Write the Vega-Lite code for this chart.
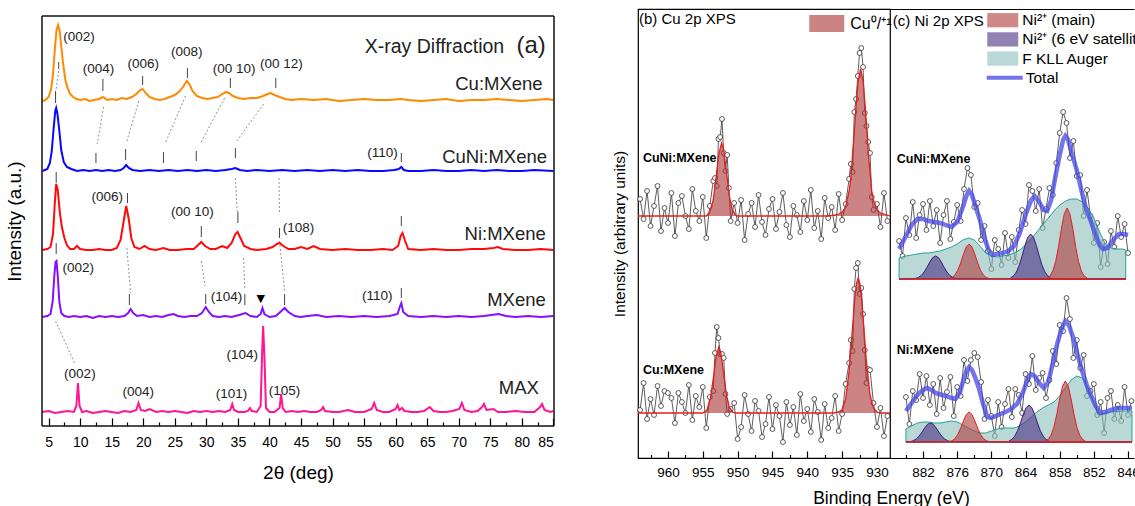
{
"$schema":"https://vega.github.io/schema/vega-lite/v6.json",
"background":"white",
"padding":{"left":5,"top":8,"right":0,"bottom":0},
"config":{
 "view":{"stroke":"black","strokeWidth":1.2},
 "axis":{"labelFont":"Liberation Sans","titleFont":"Liberation Sans","labelColor":"black","titleColor":"black","tickColor":"black","domainColor":"black","titleFontWeight":"normal","grid":false},
 "text":{"font":"Liberation Sans"},
 "legend":{"labelFont":"Liberation Sans","labelColor":"black"}
},
"datasets":{
"xframe":[
{"t":3.95,"t2":3.95,"a":0,"b":410},{"t":85.1,"t2":85.1,"a":0,"b":410},{"t":3.95,"t2":85.1,"a":410,"b":410},{"t":3.95,"t2":85.1,"a":0,"b":0}
],
"xrd":[
{"s":"Cu","t":4.0,"i":325},{"s":"Cu","t":4.5,"i":326},{"s":"Cu","t":5.0,"i":329},{"s":"Cu","t":5.4,"i":337},{"s":"Cu","t":5.7,"i":352},{"s":"Cu","t":6.0,"i":378},{"s":"Cu","t":6.25,"i":396},{"s":"Cu","t":6.5,"i":401},{"s":"Cu","t":6.75,"i":395},{"s":"Cu","t":7.0,"i":380},{"s":"Cu","t":7.3,"i":362},{"s":"Cu","t":7.65,"i":346},{"s":"Cu","t":8.0,"i":338},{"s":"Cu","t":8.4,"i":332},{"s":"Cu","t":8.9,"i":329},{"s":"Cu","t":9.4,"i":327},{"s":"Cu","t":10,"i":326},{"s":"Cu","t":10.8,"i":327},{"s":"Cu","t":11.5,"i":325},{"s":"Cu","t":12.2,"i":326},{"s":"Cu","t":13.0,"i":327},{"s":"Cu","t":13.6,"i":329},{"s":"Cu","t":14.3,"i":326},{"s":"Cu","t":15.0,"i":327},{"s":"Cu","t":15.8,"i":326},{"s":"Cu","t":16.6,"i":328},{"s":"Cu","t":17.4,"i":327},{"s":"Cu","t":18.2,"i":329},{"s":"Cu","t":18.9,"i":332},{"s":"Cu","t":19.5,"i":336},{"s":"Cu","t":19.9,"i":337},{"s":"Cu","t":20.4,"i":333},{"s":"Cu","t":21.0,"i":329},{"s":"Cu","t":21.8,"i":327},{"s":"Cu","t":22.6,"i":326},{"s":"Cu","t":23.4,"i":327},{"s":"Cu","t":24.2,"i":329},{"s":"Cu","t":25.0,"i":331},{"s":"Cu","t":25.8,"i":335},{"s":"Cu","t":26.4,"i":340},{"s":"Cu","t":26.9,"i":345},{"s":"Cu","t":27.3,"i":342},{"s":"Cu","t":27.8,"i":335},{"s":"Cu","t":28.5,"i":330},{"s":"Cu","t":29.3,"i":328},{"s":"Cu","t":30.2,"i":327},{"s":"Cu","t":31.0,"i":328},{"s":"Cu","t":31.8,"i":329},{"s":"Cu","t":32.5,"i":332},{"s":"Cu","t":33.1,"i":334},{"s":"Cu","t":33.6,"i":333},{"s":"Cu","t":34.2,"i":330},{"s":"Cu","t":35.0,"i":328},{"s":"Cu","t":36.0,"i":327},{"s":"Cu","t":37.0,"i":328},{"s":"Cu","t":38.0,"i":328},{"s":"Cu","t":39.0,"i":330},{"s":"Cu","t":39.7,"i":332},{"s":"Cu","t":40.2,"i":333},{"s":"Cu","t":40.8,"i":331},{"s":"Cu","t":41.6,"i":329},{"s":"Cu","t":42.5,"i":327},{"s":"Cu","t":43.5,"i":326},{"s":"Cu","t":45,"i":327},{"s":"Cu","t":47,"i":326},{"s":"Cu","t":49,"i":327},{"s":"Cu","t":51,"i":325},{"s":"Cu","t":53,"i":326},{"s":"Cu","t":55,"i":327},{"s":"Cu","t":57,"i":326},{"s":"Cu","t":59,"i":326},{"s":"Cu","t":60.8,"i":327},{"s":"Cu","t":62,"i":326},{"s":"Cu","t":64,"i":325},{"s":"Cu","t":66,"i":326},{"s":"Cu","t":68,"i":327},{"s":"Cu","t":70,"i":325},{"s":"Cu","t":72,"i":326},{"s":"Cu","t":74,"i":326},{"s":"Cu","t":76,"i":327},{"s":"Cu","t":78,"i":326},{"s":"Cu","t":80,"i":325},{"s":"Cu","t":82,"i":326},{"s":"Cu","t":84,"i":327},{"s":"Cu","t":85,"i":326},
{"s":"CuNi","t":4.0,"i":255},{"s":"CuNi","t":4.8,"i":257},{"s":"CuNi","t":5.2,"i":263},{"s":"CuNi","t":5.5,"i":275},{"s":"CuNi","t":5.8,"i":298},{"s":"CuNi","t":6.05,"i":315},{"s":"CuNi","t":6.2,"i":318},{"s":"CuNi","t":6.4,"i":312},{"s":"CuNi","t":6.7,"i":295},{"s":"CuNi","t":7.0,"i":276},{"s":"CuNi","t":7.4,"i":264},{"s":"CuNi","t":7.9,"i":259},{"s":"CuNi","t":8.6,"i":257},{"s":"CuNi","t":9.5,"i":255},{"s":"CuNi","t":10.5,"i":256},{"s":"CuNi","t":11.5,"i":255},{"s":"CuNi","t":12.5,"i":256},{"s":"CuNi","t":13.5,"i":255},{"s":"CuNi","t":14.5,"i":256},{"s":"CuNi","t":15.5,"i":255},{"s":"CuNi","t":16.4,"i":256},{"s":"CuNi","t":16.9,"i":258},{"s":"CuNi","t":17.3,"i":261},{"s":"CuNi","t":17.7,"i":258},{"s":"CuNi","t":18.3,"i":256},{"s":"CuNi","t":19.5,"i":255},{"s":"CuNi","t":21,"i":256},{"s":"CuNi","t":22.5,"i":255},{"s":"CuNi","t":24,"i":256},{"s":"CuNi","t":25.5,"i":255},{"s":"CuNi","t":27,"i":256},{"s":"CuNi","t":28.5,"i":255},{"s":"CuNi","t":30,"i":256},{"s":"CuNi","t":31.5,"i":255},{"s":"CuNi","t":33,"i":256},{"s":"CuNi","t":34.0,"i":257},{"s":"CuNi","t":34.6,"i":258},{"s":"CuNi","t":35.3,"i":256},{"s":"CuNi","t":36.5,"i":255},{"s":"CuNi","t":38,"i":256},{"s":"CuNi","t":40,"i":255},{"s":"CuNi","t":42,"i":256},{"s":"CuNi","t":44,"i":255},{"s":"CuNi","t":46,"i":256},{"s":"CuNi","t":48,"i":255},{"s":"CuNi","t":50,"i":256},{"s":"CuNi","t":52,"i":255},{"s":"CuNi","t":54,"i":256},{"s":"CuNi","t":56,"i":255},{"s":"CuNi","t":58,"i":255},{"s":"CuNi","t":59.8,"i":256},{"s":"CuNi","t":60.5,"i":257},{"s":"CuNi","t":60.9,"i":259},{"s":"CuNi","t":61.3,"i":256},{"s":"CuNi","t":62,"i":255},{"s":"CuNi","t":64,"i":255},{"s":"CuNi","t":66,"i":256},{"s":"CuNi","t":68,"i":255},{"s":"CuNi","t":70,"i":255},{"s":"CuNi","t":72,"i":256},{"s":"CuNi","t":74,"i":255},{"s":"CuNi","t":76,"i":256},{"s":"CuNi","t":78,"i":255},{"s":"CuNi","t":80,"i":255},{"s":"CuNi","t":82,"i":256},{"s":"CuNi","t":85,"i":255},
{"s":"Ni","t":4.0,"i":176},{"s":"Ni","t":4.8,"i":177},{"s":"Ni","t":5.3,"i":179},{"s":"Ni","t":5.7,"i":192},{"s":"Ni","t":6.0,"i":225},{"s":"Ni","t":6.2,"i":242},{"s":"Ni","t":6.45,"i":236},{"s":"Ni","t":6.8,"i":212},{"s":"Ni","t":7.1,"i":199},{"s":"Ni","t":7.5,"i":188},{"s":"Ni","t":7.9,"i":181},{"s":"Ni","t":8.4,"i":177},{"s":"Ni","t":9.0,"i":177},{"s":"Ni","t":9.5,"i":180},{"s":"Ni","t":10.0,"i":177},{"s":"Ni","t":11,"i":176},{"s":"Ni","t":12,"i":176},{"s":"Ni","t":13,"i":177},{"s":"Ni","t":14,"i":176},{"s":"Ni","t":15,"i":176},{"s":"Ni","t":15.8,"i":178},{"s":"Ni","t":16.4,"i":186},{"s":"Ni","t":16.9,"i":205},{"s":"Ni","t":17.3,"i":220},{"s":"Ni","t":17.7,"i":207},{"s":"Ni","t":18.1,"i":188},{"s":"Ni","t":18.6,"i":179},{"s":"Ni","t":19.4,"i":177},{"s":"Ni","t":20.2,"i":180},{"s":"Ni","t":21,"i":177},{"s":"Ni","t":22,"i":176},{"s":"Ni","t":23.2,"i":178},{"s":"Ni","t":24.2,"i":176},{"s":"Ni","t":25.5,"i":176},{"s":"Ni","t":26.8,"i":177},{"s":"Ni","t":28.0,"i":177},{"s":"Ni","t":28.7,"i":181},{"s":"Ni","t":29.2,"i":184},{"s":"Ni","t":29.8,"i":180},{"s":"Ni","t":30.6,"i":177},{"s":"Ni","t":31.5,"i":177},{"s":"Ni","t":32.5,"i":180},{"s":"Ni","t":33.3,"i":178},{"s":"Ni","t":34.0,"i":183},{"s":"Ni","t":34.6,"i":192},{"s":"Ni","t":34.95,"i":194},{"s":"Ni","t":35.4,"i":188},{"s":"Ni","t":36.0,"i":180},{"s":"Ni","t":37.0,"i":177},{"s":"Ni","t":38.0,"i":176},{"s":"Ni","t":39.5,"i":177},{"s":"Ni","t":40.5,"i":179},{"s":"Ni","t":41.2,"i":182},{"s":"Ni","t":41.6,"i":183},{"s":"Ni","t":42.2,"i":180},{"s":"Ni","t":43.0,"i":177},{"s":"Ni","t":44.0,"i":177},{"s":"Ni","t":45.0,"i":179},{"s":"Ni","t":46.0,"i":177},{"s":"Ni","t":47.0,"i":180},{"s":"Ni","t":48.0,"i":177},{"s":"Ni","t":50,"i":176},{"s":"Ni","t":52,"i":177},{"s":"Ni","t":54,"i":176},{"s":"Ni","t":56,"i":176},{"s":"Ni","t":58,"i":177},{"s":"Ni","t":59.5,"i":176},{"s":"Ni","t":60.4,"i":180},{"s":"Ni","t":60.8,"i":190},{"s":"Ni","t":61.1,"i":193},{"s":"Ni","t":61.5,"i":185},{"s":"Ni","t":62,"i":177},{"s":"Ni","t":64,"i":176},{"s":"Ni","t":66,"i":177},{"s":"Ni","t":68,"i":176},{"s":"Ni","t":70,"i":176},{"s":"Ni","t":72,"i":177},{"s":"Ni","t":74,"i":177},{"s":"Ni","t":75.5,"i":178},{"s":"Ni","t":76.2,"i":179},{"s":"Ni","t":77,"i":177},{"s":"Ni","t":79,"i":176},{"s":"Ni","t":81,"i":176},{"s":"Ni","t":83,"i":177},{"s":"Ni","t":85,"i":176},
{"s":"MX","t":4.0,"i":109},{"s":"MX","t":4.8,"i":110},{"s":"MX","t":5.3,"i":112},{"s":"MX","t":5.65,"i":125},{"s":"MX","t":5.9,"i":150},{"s":"MX","t":6.1,"i":164},{"s":"MX","t":6.25,"i":165},{"s":"MX","t":6.45,"i":150},{"s":"MX","t":6.7,"i":124},{"s":"MX","t":7.0,"i":113},{"s":"MX","t":7.5,"i":110},{"s":"MX","t":8.2,"i":109},{"s":"MX","t":9.0,"i":110},{"s":"MX","t":10,"i":109},{"s":"MX","t":11,"i":110},{"s":"MX","t":12,"i":108},{"s":"MX","t":13,"i":110},{"s":"MX","t":14,"i":109},{"s":"MX","t":15,"i":110},{"s":"MX","t":16,"i":109},{"s":"MX","t":17.0,"i":110},{"s":"MX","t":17.6,"i":113},{"s":"MX","t":18.0,"i":117},{"s":"MX","t":18.4,"i":113},{"s":"MX","t":19.0,"i":110},{"s":"MX","t":20.0,"i":111},{"s":"MX","t":21,"i":109},{"s":"MX","t":22,"i":110},{"s":"MX","t":23,"i":109},{"s":"MX","t":24,"i":111},{"s":"MX","t":24.8,"i":112},{"s":"MX","t":25.5,"i":110},{"s":"MX","t":26.5,"i":109},{"s":"MX","t":27.5,"i":110},{"s":"MX","t":28.5,"i":110},{"s":"MX","t":29.3,"i":113},{"s":"MX","t":29.9,"i":119},{"s":"MX","t":30.4,"i":114},{"s":"MX","t":31.0,"i":110},{"s":"MX","t":32,"i":109},{"s":"MX","t":33,"i":110},{"s":"MX","t":34,"i":109},{"s":"MX","t":35.2,"i":111},{"s":"MX","t":36.2,"i":113},{"s":"MX","t":37.0,"i":110},{"s":"MX","t":38.0,"i":109},{"s":"MX","t":38.6,"i":112},{"s":"MX","t":38.9,"i":118},{"s":"MX","t":39.2,"i":112},{"s":"MX","t":40.0,"i":109},{"s":"MX","t":41.0,"i":110},{"s":"MX","t":41.9,"i":115},{"s":"MX","t":42.4,"i":118},{"s":"MX","t":43.0,"i":114},{"s":"MX","t":44.0,"i":110},{"s":"MX","t":45,"i":109},{"s":"MX","t":46,"i":110},{"s":"MX","t":47.5,"i":111},{"s":"MX","t":49,"i":109},{"s":"MX","t":51,"i":110},{"s":"MX","t":53,"i":109},{"s":"MX","t":55,"i":110},{"s":"MX","t":57,"i":109},{"s":"MX","t":59,"i":110},{"s":"MX","t":60.3,"i":112},{"s":"MX","t":60.7,"i":120},{"s":"MX","t":60.9,"i":123},{"s":"MX","t":61.2,"i":114},{"s":"MX","t":62,"i":110},{"s":"MX","t":64,"i":109},{"s":"MX","t":66,"i":110},{"s":"MX","t":68,"i":109},{"s":"MX","t":70,"i":110},{"s":"MX","t":72,"i":109},{"s":"MX","t":74,"i":110},{"s":"MX","t":76.3,"i":112},{"s":"MX","t":77.5,"i":110},{"s":"MX","t":79,"i":109},{"s":"MX","t":81,"i":110},{"s":"MX","t":83,"i":109},{"s":"MX","t":85,"i":110},
{"s":"MAX","t":4.0,"i":14},{"s":"MAX","t":5,"i":15},{"s":"MAX","t":6,"i":13},{"s":"MAX","t":7,"i":14},{"s":"MAX","t":8,"i":15},{"s":"MAX","t":9.0,"i":14},{"s":"MAX","t":9.4,"i":20},{"s":"MAX","t":9.65,"i":43},{"s":"MAX","t":9.9,"i":20},{"s":"MAX","t":10.3,"i":14},{"s":"MAX","t":11,"i":15},{"s":"MAX","t":12,"i":13},{"s":"MAX","t":13,"i":14},{"s":"MAX","t":14,"i":15},{"s":"MAX","t":15,"i":14},{"s":"MAX","t":16,"i":13},{"s":"MAX","t":17,"i":15},{"s":"MAX","t":18,"i":14},{"s":"MAX","t":18.9,"i":16},{"s":"MAX","t":19.25,"i":23},{"s":"MAX","t":19.6,"i":16},{"s":"MAX","t":20.3,"i":15},{"s":"MAX","t":21,"i":17},{"s":"MAX","t":22,"i":14},{"s":"MAX","t":23,"i":15},{"s":"MAX","t":24,"i":14},{"s":"MAX","t":25,"i":15},{"s":"MAX","t":26,"i":14},{"s":"MAX","t":27,"i":13},{"s":"MAX","t":28,"i":15},{"s":"MAX","t":29,"i":14},{"s":"MAX","t":30,"i":15},{"s":"MAX","t":31,"i":14},{"s":"MAX","t":32,"i":15},{"s":"MAX","t":33,"i":14},{"s":"MAX","t":33.8,"i":16},{"s":"MAX","t":34.1,"i":22},{"s":"MAX","t":34.4,"i":16},{"s":"MAX","t":35,"i":14},{"s":"MAX","t":36,"i":14},{"s":"MAX","t":36.6,"i":15},{"s":"MAX","t":36.9,"i":18},{"s":"MAX","t":37.2,"i":15},{"s":"MAX","t":38.0,"i":14},{"s":"MAX","t":38.6,"i":20},{"s":"MAX","t":38.85,"i":75},{"s":"MAX","t":39.0,"i":100},{"s":"MAX","t":39.2,"i":70},{"s":"MAX","t":39.45,"i":18},{"s":"MAX","t":40.0,"i":14},{"s":"MAX","t":40.8,"i":14},{"s":"MAX","t":41.6,"i":18},{"s":"MAX","t":41.85,"i":32},{"s":"MAX","t":42.1,"i":18},{"s":"MAX","t":42.6,"i":14},{"s":"MAX","t":43.5,"i":15},{"s":"MAX","t":44.5,"i":14},{"s":"MAX","t":45.5,"i":15},{"s":"MAX","t":46.5,"i":14},{"s":"MAX","t":47.5,"i":14},{"s":"MAX","t":48.2,"i":16},{"s":"MAX","t":48.5,"i":19},{"s":"MAX","t":48.8,"i":15},{"s":"MAX","t":50,"i":14},{"s":"MAX","t":51,"i":14},{"s":"MAX","t":52.5,"i":16},{"s":"MAX","t":53.5,"i":14},{"s":"MAX","t":55,"i":14},{"s":"MAX","t":56.2,"i":17},{"s":"MAX","t":56.6,"i":23},{"s":"MAX","t":57.0,"i":16},{"s":"MAX","t":58,"i":14},{"s":"MAX","t":59,"i":14},{"s":"MAX","t":60.0,"i":17},{"s":"MAX","t":60.3,"i":21},{"s":"MAX","t":60.6,"i":16},{"s":"MAX","t":61.0,"i":18},{"s":"MAX","t":61.4,"i":15},{"s":"MAX","t":62.5,"i":14},{"s":"MAX","t":63.5,"i":14},{"s":"MAX","t":64.5,"i":15},{"s":"MAX","t":65.4,"i":19},{"s":"MAX","t":66.0,"i":15},{"s":"MAX","t":67,"i":14},{"s":"MAX","t":68,"i":14},{"s":"MAX","t":69,"i":15},{"s":"MAX","t":70.1,"i":17},{"s":"MAX","t":70.5,"i":23},{"s":"MAX","t":70.9,"i":16},{"s":"MAX","t":72,"i":14},{"s":"MAX","t":73.0,"i":15},{"s":"MAX","t":73.7,"i":19},{"s":"MAX","t":74.0,"i":22},{"s":"MAX","t":74.4,"i":16},{"s":"MAX","t":75.5,"i":17},{"s":"MAX","t":76.2,"i":14},{"s":"MAX","t":77.5,"i":14},{"s":"MAX","t":79,"i":15},{"s":"MAX","t":80.5,"i":14},{"s":"MAX","t":82,"i":14},{"s":"MAX","t":82.9,"i":19},{"s":"MAX","t":83.2,"i":22},{"s":"MAX","t":83.6,"i":16},{"s":"MAX","t":84.5,"i":14},{"s":"MAX","t":85,"i":15}
],
"xlab":[
{"k":"h","t":9.8,"i":389,"txt":"(002)"},{"k":"h","t":12.9,"i":357,"txt":"(004)"},{"k":"h","t":20.0,"i":362,"txt":"(006)"},{"k":"h","t":26.9,"i":374,"txt":"(008)"},{"k":"h","t":34.4,"i":357,"txt":"(00 10)"},{"k":"h","t":41.9,"i":362,"txt":"(00 12)"},{"k":"h","t":57.9,"i":273,"txt":"(110)"},{"k":"h","t":14.3,"i":229,"txt":"(006)"},{"k":"h","t":27.8,"i":214,"txt":"(00 10)"},{"k":"h","t":44.6,"i":198,"txt":"(108)"},{"k":"h","t":9.7,"i":158,"txt":"(002)"},{"k":"h","t":33.2,"i":129,"txt":"(104)"},{"k":"h","t":57.1,"i":130,"txt":"(110)"},{"k":"h","t":9.95,"i":52,"txt":"(002)"},{"k":"h","t":19.2,"i":34,"txt":"(004)"},{"k":"h","t":34.0,"i":32,"txt":"(101)"},{"k":"h","t":35.7,"i":71,"txt":"(104)"},{"k":"h","t":42.4,"i":35,"txt":"(105)"},
{"k":"v","t":38.6,"i":127,"txt":"▼"},
{"k":"n","t":83.3,"i":342,"txt":"Cu:MXene"},{"k":"n","t":84.0,"i":269,"txt":"CuNi:MXene"},{"k":"n","t":83.8,"i":192,"txt":"Ni:MXene"},{"k":"n","t":83.8,"i":126,"txt":"MXene"},{"k":"n","t":82.7,"i":38,"txt":"MAX"},
{"k":"T","t":77.2,"i":373,"txt":"X-ray Diffraction"},{"k":"A","t":83.8,"i":373,"txt":"(a)"}
],
"xtk":[
{"t":6.6,"a":357,"b":364},{"t":13.6,"a":335,"b":347},{"t":19.9,"a":341,"b":350},{"t":27.0,"a":348,"b":358},{"t":33.8,"a":338,"b":348},{"t":41.0,"a":338,"b":348},
{"t":6.1,"a":323,"b":335},{"t":12.5,"a":263,"b":273},{"t":17.2,"a":266,"b":277},{"t":23.2,"a":263,"b":274},{"t":28.4,"a":265,"b":275},{"t":34.6,"a":268,"b":278},{"t":60.9,"a":264,"b":273},
{"t":6.2,"a":243,"b":254},{"t":17.5,"a":223,"b":233},{"t":29.2,"a":189,"b":200},{"t":35.0,"a":203,"b":214},{"t":41.6,"a":188,"b":198},{"t":60.9,"a":200,"b":210},
{"t":6.2,"a":172,"b":183},{"t":17.8,"a":121,"b":132},{"t":29.9,"a":122,"b":132},{"t":36.1,"a":121,"b":132},{"t":42.4,"a":121,"b":132},{"t":60.9,"a":128,"b":138}
],
"xdot":[
{"t":6.6,"a":355,"t2":6.2,"b":337},{"t":13.7,"a":319,"t2":12.7,"b":282},{"t":19.3,"a":325,"t2":17.3,"b":283},{"t":26.7,"a":330,"t2":23.5,"b":283},{"t":32.9,"a":328,"t2":29.1,"b":283},{"t":39.1,"a":322,"t2":34.8,"b":285},
{"t":34.6,"a":248,"t2":34.9,"b":214},{"t":41.5,"a":248,"t2":41.6,"b":212},
{"t":17.4,"a":178,"t2":18.0,"b":133},{"t":29.2,"a":165,"t2":29.8,"b":140},{"t":35.9,"a":168,"t2":36.1,"b":137},{"t":41.6,"a":185,"t2":42.4,"b":135},
{"t":6.1,"a":105,"t2":9.1,"b":63}
],
"bpts":[
{"sp":"CuNi","e":964,"v":259},{"sp":"CuNi","e":963.5,"v":239},{"sp":"CuNi","e":963,"v":267},{"sp":"CuNi","e":962.5,"v":232},{"sp":"CuNi","e":962,"v":252},{"sp":"CuNi","e":961.5,"v":272},{"sp":"CuNi","e":961,"v":227},{"sp":"CuNi","e":960.5,"v":250},{"sp":"CuNi","e":960,"v":235},{"sp":"CuNi","e":959.5,"v":265},{"sp":"CuNi","e":959,"v":222},{"sp":"CuNi","e":958.5,"v":255},{"sp":"CuNi","e":958,"v":262},{"sp":"CuNi","e":957.5,"v":242},{"sp":"CuNi","e":957,"v":229},{"sp":"CuNi","e":956.5,"v":269},{"sp":"CuNi","e":956,"v":247},{"sp":"CuNi","e":955.5,"v":237},{"sp":"CuNi","e":955,"v":261},{"sp":"CuNi","e":954.5,"v":220},{"sp":"CuNi","e":954,"v":252},{"sp":"CuNi","e":953.5,"v":277},{"sp":"CuNi","e":953.25,"v":280},{"sp":"CuNi","e":953,"v":272},{"sp":"CuNi","e":952.75,"v":319},{"sp":"CuNi","e":952.5,"v":321},{"sp":"CuNi","e":952.25,"v":339},{"sp":"CuNi","e":952,"v":305},{"sp":"CuNi","e":951.75,"v":287},{"sp":"CuNi","e":951.5,"v":303},{"sp":"CuNi","e":951.25,"v":270},{"sp":"CuNi","e":951,"v":237},{"sp":"CuNi","e":950.5,"v":255},{"sp":"CuNi","e":950,"v":235},{"sp":"CuNi","e":949.5,"v":258},{"sp":"CuNi","e":949,"v":218},{"sp":"CuNi","e":948.5,"v":244},{"sp":"CuNi","e":948,"v":255},{"sp":"CuNi","e":947.5,"v":231},{"sp":"CuNi","e":947,"v":263},{"sp":"CuNi","e":946.5,"v":236},{"sp":"CuNi","e":946,"v":223},{"sp":"CuNi","e":945.5,"v":249},{"sp":"CuNi","e":945,"v":259},{"sp":"CuNi","e":944.5,"v":229},{"sp":"CuNi","e":944,"v":246},{"sp":"CuNi","e":943.5,"v":265},{"sp":"CuNi","e":943,"v":233},{"sp":"CuNi","e":942.5,"v":221},{"sp":"CuNi","e":942,"v":252},{"sp":"CuNi","e":941.5,"v":243},{"sp":"CuNi","e":941,"v":226},{"sp":"CuNi","e":940.5,"v":257},{"sp":"CuNi","e":940,"v":238},{"sp":"CuNi","e":939.5,"v":268},{"sp":"CuNi","e":939,"v":230},{"sp":"CuNi","e":938.5,"v":247},{"sp":"CuNi","e":938,"v":219},{"sp":"CuNi","e":937.5,"v":260},{"sp":"CuNi","e":937,"v":240},{"sp":"CuNi","e":936.5,"v":251},{"sp":"CuNi","e":936,"v":228},{"sp":"CuNi","e":935.5,"v":264},{"sp":"CuNi","e":935,"v":238},{"sp":"CuNi","e":934.5,"v":254},{"sp":"CuNi","e":934,"v":279},{"sp":"CuNi","e":933.75,"v":294},{"sp":"CuNi","e":933.5,"v":286},{"sp":"CuNi","e":933.25,"v":346},{"sp":"CuNi","e":933,"v":359},{"sp":"CuNi","e":932.75,"v":382},{"sp":"CuNi","e":932.5,"v":405},{"sp":"CuNi","e":932.25,"v":410},{"sp":"CuNi","e":932,"v":391},{"sp":"CuNi","e":931.75,"v":345},{"sp":"CuNi","e":931.5,"v":332},{"sp":"CuNi","e":931.25,"v":316},{"sp":"CuNi","e":931,"v":305},{"sp":"CuNi","e":930.75,"v":261},{"sp":"CuNi","e":930.5,"v":248},{"sp":"CuNi","e":930,"v":254},{"sp":"CuNi","e":929.5,"v":231},{"sp":"CuNi","e":929,"v":265},{"sp":"CuNi","e":928.5,"v":237},
{"sp":"Cu","e":964,"v":48},{"sp":"Cu","e":963.5,"v":75},{"sp":"Cu","e":963,"v":39},{"sp":"Cu","e":962.5,"v":59},{"sp":"Cu","e":962,"v":43},{"sp":"Cu","e":961.5,"v":72},{"sp":"Cu","e":961,"v":52},{"sp":"Cu","e":960.5,"v":67},{"sp":"Cu","e":960,"v":65},{"sp":"Cu","e":959.5,"v":60},{"sp":"Cu","e":959,"v":35},{"sp":"Cu","e":958.5,"v":65},{"sp":"Cu","e":958,"v":56},{"sp":"Cu","e":957.5,"v":45},{"sp":"Cu","e":957,"v":73},{"sp":"Cu","e":956.5,"v":38},{"sp":"Cu","e":956,"v":62},{"sp":"Cu","e":955.5,"v":51},{"sp":"Cu","e":955,"v":71},{"sp":"Cu","e":954.5,"v":30},{"sp":"Cu","e":954,"v":61},{"sp":"Cu","e":953.5,"v":67},{"sp":"Cu","e":953.25,"v":105},{"sp":"Cu","e":953,"v":131},{"sp":"Cu","e":952.75,"v":120},{"sp":"Cu","e":952.5,"v":104},{"sp":"Cu","e":952.25,"v":104},{"sp":"Cu","e":952,"v":100},{"sp":"Cu","e":951.75,"v":64},{"sp":"Cu","e":951.5,"v":44},{"sp":"Cu","e":951,"v":49},{"sp":"Cu","e":950.5,"v":55},{"sp":"Cu","e":950,"v":19},{"sp":"Cu","e":949.5,"v":31},{"sp":"Cu","e":949,"v":63},{"sp":"Cu","e":948.5,"v":44},{"sp":"Cu","e":948,"v":27},{"sp":"Cu","e":947.5,"v":57},{"sp":"Cu","e":947,"v":47},{"sp":"Cu","e":946.5,"v":21},{"sp":"Cu","e":946,"v":34},{"sp":"Cu","e":945.5,"v":61},{"sp":"Cu","e":945,"v":29},{"sp":"Cu","e":944.5,"v":53},{"sp":"Cu","e":944,"v":42},{"sp":"Cu","e":943.5,"v":16},{"sp":"Cu","e":943,"v":56},{"sp":"Cu","e":942.5,"v":33},{"sp":"Cu","e":942,"v":51},{"sp":"Cu","e":941.5,"v":23},{"sp":"Cu","e":941,"v":64},{"sp":"Cu","e":940.5,"v":37},{"sp":"Cu","e":940,"v":49},{"sp":"Cu","e":939.5,"v":26},{"sp":"Cu","e":939,"v":59},{"sp":"Cu","e":938.5,"v":46},{"sp":"Cu","e":938,"v":18},{"sp":"Cu","e":937.5,"v":54},{"sp":"Cu","e":937,"v":30},{"sp":"Cu","e":936.5,"v":40},{"sp":"Cu","e":936,"v":62},{"sp":"Cu","e":935.5,"v":27},{"sp":"Cu","e":935,"v":44},{"sp":"Cu","e":934.5,"v":74},{"sp":"Cu","e":934,"v":95},{"sp":"Cu","e":933.75,"v":118},{"sp":"Cu","e":933.5,"v":107},{"sp":"Cu","e":933.25,"v":169},{"sp":"Cu","e":933,"v":190},{"sp":"Cu","e":932.75,"v":195},{"sp":"Cu","e":932.5,"v":164},{"sp":"Cu","e":932.25,"v":170},{"sp":"Cu","e":932,"v":144},{"sp":"Cu","e":931.75,"v":108},{"sp":"Cu","e":931.5,"v":75},{"sp":"Cu","e":931.25,"v":89},{"sp":"Cu","e":931,"v":88},{"sp":"Cu","e":930.5,"v":55},{"sp":"Cu","e":930,"v":31},{"sp":"Cu","e":929.5,"v":50},{"sp":"Cu","e":929,"v":22},{"sp":"Cu","e":928.5,"v":42}
],
"bfit":[
{"sp":"CuNi","e":964.3,"v":242},{"sp":"CuNi","e":955,"v":242},{"sp":"CuNi","e":954.5,"v":242},{"sp":"CuNi","e":954.0,"v":246},{"sp":"CuNi","e":953.5,"v":258},{"sp":"CuNi","e":953.0,"v":286},{"sp":"CuNi","e":952.7,"v":304},{"sp":"CuNi","e":952.3,"v":315},{"sp":"CuNi","e":952.0,"v":308},{"sp":"CuNi","e":951.6,"v":286},{"sp":"CuNi","e":951.2,"v":262},{"sp":"CuNi","e":950.8,"v":249},{"sp":"CuNi","e":950.3,"v":243},{"sp":"CuNi","e":950.0,"v":242},{"sp":"CuNi","e":937,"v":242},{"sp":"CuNi","e":936.0,"v":243},{"sp":"CuNi","e":935.5,"v":244},{"sp":"CuNi","e":935.0,"v":246},{"sp":"CuNi","e":934.5,"v":251},{"sp":"CuNi","e":934.0,"v":267},{"sp":"CuNi","e":933.75,"v":280},{"sp":"CuNi","e":933.5,"v":304},{"sp":"CuNi","e":933.25,"v":326},{"sp":"CuNi","e":933.0,"v":352},{"sp":"CuNi","e":932.7,"v":377},{"sp":"CuNi","e":932.35,"v":389},{"sp":"CuNi","e":932.0,"v":377},{"sp":"CuNi","e":931.75,"v":357},{"sp":"CuNi","e":931.5,"v":333},{"sp":"CuNi","e":931.25,"v":306},{"sp":"CuNi","e":931.0,"v":286},{"sp":"CuNi","e":930.75,"v":267},{"sp":"CuNi","e":930.5,"v":258},{"sp":"CuNi","e":930.0,"v":248},{"sp":"CuNi","e":929.5,"v":245},{"sp":"CuNi","e":929.0,"v":244},{"sp":"CuNi","e":928.13,"v":242},
{"sp":"Cu","e":964.3,"v":45},{"sp":"Cu","e":955.0,"v":45},{"sp":"Cu","e":954.4,"v":48},{"sp":"Cu","e":953.9,"v":60},{"sp":"Cu","e":953.4,"v":84},{"sp":"Cu","e":953.1,"v":101},{"sp":"Cu","e":952.7,"v":111},{"sp":"Cu","e":952.4,"v":105},{"sp":"Cu","e":952.0,"v":84},{"sp":"Cu","e":951.6,"v":63},{"sp":"Cu","e":951.2,"v":51},{"sp":"Cu","e":950.7,"v":46},{"sp":"Cu","e":950.3,"v":45},{"sp":"Cu","e":936.2,"v":45},{"sp":"Cu","e":935.5,"v":46},{"sp":"Cu","e":935.0,"v":48.5},{"sp":"Cu","e":934.5,"v":59},{"sp":"Cu","e":934.0,"v":87},{"sp":"Cu","e":933.6,"v":122},{"sp":"Cu","e":933.2,"v":158},{"sp":"Cu","e":932.95,"v":174},{"sp":"Cu","e":932.7,"v":180},{"sp":"Cu","e":932.45,"v":174},{"sp":"Cu","e":932.3,"v":166},{"sp":"Cu","e":931.9,"v":132},{"sp":"Cu","e":931.5,"v":95},{"sp":"Cu","e":931.0,"v":63},{"sp":"Cu","e":930.5,"v":50},{"sp":"Cu","e":930.0,"v":46},{"sp":"Cu","e":929.5,"v":45},{"sp":"Cu","e":928.13,"v":45}
],
"blab":[
{"k":"t","e":964.16,"v":438.7,"txt":"(b) Cu 2p XPS"},{"k":"s","e":963.6,"v":300,"txt":"CuNi:MXene"},{"k":"s","e":963.6,"v":88,"txt":"Cu:MXene"}
],
"clab":[
{"k":"t","e":887.3,"v":437,"txt":"(c) Ni 2p XPS"},{"k":"s","e":886.6,"v":299,"txt":"CuNi:MXene"},{"k":"s","e":886.6,"v":108,"txt":"Ni:MXene"}
],
"cpts":[
{"sp":"CuNi","e":886.2,"v":217},{"sp":"CuNi","e":885.6,"v":202},{"sp":"CuNi","e":885.0,"v":240},{"sp":"CuNi","e":884.4,"v":223},{"sp":"CuNi","e":883.8,"v":256},{"sp":"CuNi","e":883.2,"v":220},{"sp":"CuNi","e":882.6,"v":243},{"sp":"CuNi","e":882.0,"v":254},{"sp":"CuNi","e":881.4,"v":228},{"sp":"CuNi","e":880.8,"v":257},{"sp":"CuNi","e":880.2,"v":232},{"sp":"CuNi","e":879.6,"v":248},{"sp":"CuNi","e":879.0,"v":215},{"sp":"CuNi","e":878.4,"v":243},{"sp":"CuNi","e":877.8,"v":257},{"sp":"CuNi","e":877.2,"v":219},{"sp":"CuNi","e":876.6,"v":236},{"sp":"CuNi","e":876.0,"v":253},{"sp":"CuNi","e":875.4,"v":237},{"sp":"CuNi","e":874.8,"v":269},{"sp":"CuNi","e":874.2,"v":290},{"sp":"CuNi","e":873.6,"v":283},{"sp":"CuNi","e":873.0,"v":251},{"sp":"CuNi","e":872.4,"v":255},{"sp":"CuNi","e":871.8,"v":218},{"sp":"CuNi","e":871.2,"v":232},{"sp":"CuNi","e":870.6,"v":207},{"sp":"CuNi","e":870.0,"v":189},{"sp":"CuNi","e":869.4,"v":218},{"sp":"CuNi","e":868.8,"v":209},{"sp":"CuNi","e":868.2,"v":193},{"sp":"CuNi","e":867.6,"v":225},{"sp":"CuNi","e":867.0,"v":200},{"sp":"CuNi","e":866.4,"v":221},{"sp":"CuNi","e":865.8,"v":196},{"sp":"CuNi","e":865.2,"v":228},{"sp":"CuNi","e":864.6,"v":248},{"sp":"CuNi","e":864.0,"v":234},{"sp":"CuNi","e":863.4,"v":273},{"sp":"CuNi","e":862.8,"v":267},{"sp":"CuNi","e":862.2,"v":247},{"sp":"CuNi","e":861.6,"v":269},{"sp":"CuNi","e":861.0,"v":230},{"sp":"CuNi","e":860.4,"v":249},{"sp":"CuNi","e":859.8,"v":270},{"sp":"CuNi","e":859.2,"v":263},{"sp":"CuNi","e":858.6,"v":295},{"sp":"CuNi","e":858.0,"v":325},{"sp":"CuNi","e":857.4,"v":346},{"sp":"CuNi","e":856.8,"v":335},{"sp":"CuNi","e":856.2,"v":300},{"sp":"CuNi","e":855.6,"v":317},{"sp":"CuNi","e":855.0,"v":282},{"sp":"CuNi","e":854.4,"v":283},{"sp":"CuNi","e":853.8,"v":242},{"sp":"CuNi","e":853.2,"v":268},{"sp":"CuNi","e":852.6,"v":242},{"sp":"CuNi","e":852.0,"v":215},{"sp":"CuNi","e":851.4,"v":235},{"sp":"CuNi","e":850.8,"v":191},{"sp":"CuNi","e":850.2,"v":216},{"sp":"CuNi","e":849.6,"v":194},{"sp":"CuNi","e":849.0,"v":227},{"sp":"CuNi","e":848.4,"v":211},{"sp":"CuNi","e":847.8,"v":242},{"sp":"CuNi","e":847.2,"v":221},{"sp":"CuNi","e":846.6,"v":234},{"sp":"CuNi","e":846.0,"v":205},
{"sp":"Ni","e":885.0,"v":61},{"sp":"Ni","e":884.4,"v":34},{"sp":"Ni","e":883.8,"v":67},{"sp":"Ni","e":883.2,"v":58},{"sp":"Ni","e":882.6,"v":84},{"sp":"Ni","e":882.0,"v":60},{"sp":"Ni","e":881.4,"v":82},{"sp":"Ni","e":880.8,"v":53},{"sp":"Ni","e":880.2,"v":74},{"sp":"Ni","e":879.6,"v":44},{"sp":"Ni","e":879.0,"v":80},{"sp":"Ni","e":878.4,"v":50},{"sp":"Ni","e":877.8,"v":66},{"sp":"Ni","e":877.2,"v":81},{"sp":"Ni","e":876.6,"v":42},{"sp":"Ni","e":876.0,"v":71},{"sp":"Ni","e":875.4,"v":62},{"sp":"Ni","e":874.8,"v":98},{"sp":"Ni","e":874.2,"v":77},{"sp":"Ni","e":873.6,"v":98},{"sp":"Ni","e":873.0,"v":105},{"sp":"Ni","e":872.4,"v":101},{"sp":"Ni","e":871.8,"v":76},{"sp":"Ni","e":871.2,"v":39},{"sp":"Ni","e":870.6,"v":58},{"sp":"Ni","e":870.0,"v":42},{"sp":"Ni","e":869.4,"v":22},{"sp":"Ni","e":868.8,"v":56},{"sp":"Ni","e":868.2,"v":31},{"sp":"Ni","e":867.6,"v":54},{"sp":"Ni","e":867.0,"v":69},{"sp":"Ni","e":866.4,"v":41},{"sp":"Ni","e":865.8,"v":69},{"sp":"Ni","e":865.2,"v":63},{"sp":"Ni","e":864.6,"v":45},{"sp":"Ni","e":864.0,"v":84},{"sp":"Ni","e":863.4,"v":74},{"sp":"Ni","e":862.8,"v":102},{"sp":"Ni","e":862.2,"v":68},{"sp":"Ni","e":861.6,"v":80},{"sp":"Ni","e":861.0,"v":85},{"sp":"Ni","e":860.4,"v":60},{"sp":"Ni","e":859.8,"v":78},{"sp":"Ni","e":859.2,"v":107},{"sp":"Ni","e":858.6,"v":94},{"sp":"Ni","e":858.0,"v":133},{"sp":"Ni","e":857.4,"v":127},{"sp":"Ni","e":856.8,"v":160},{"sp":"Ni","e":856.2,"v":139},{"sp":"Ni","e":855.6,"v":100},{"sp":"Ni","e":855.0,"v":118},{"sp":"Ni","e":854.4,"v":90},{"sp":"Ni","e":853.8,"v":103},{"sp":"Ni","e":853.2,"v":62},{"sp":"Ni","e":852.6,"v":67},{"sp":"Ni","e":852.0,"v":74},{"sp":"Ni","e":851.4,"v":43},{"sp":"Ni","e":850.8,"v":56},{"sp":"Ni","e":850.2,"v":25},{"sp":"Ni","e":849.6,"v":60},{"sp":"Ni","e":849.0,"v":67},{"sp":"Ni","e":848.4,"v":39},{"sp":"Ni","e":847.8,"v":53},{"sp":"Ni","e":847.2,"v":37},{"sp":"Ni","e":846.6,"v":71},{"sp":"Ni","e":846.0,"v":43},{"sp":"Ni","e":845.4,"v":57}
],
"ctot":[
{"sp":"CuNi","e":886.2,"v":209},{"sp":"CuNi","e":885.0,"v":222},{"sp":"CuNi","e":884.0,"v":233},{"sp":"CuNi","e":883.0,"v":239},{"sp":"CuNi","e":882.0,"v":239},{"sp":"CuNi","e":881.0,"v":237},{"sp":"CuNi","e":880.0,"v":236},{"sp":"CuNi","e":879.0,"v":235},{"sp":"CuNi","e":878.0,"v":233},{"sp":"CuNi","e":877.0,"v":231},{"sp":"CuNi","e":876.0,"v":236},{"sp":"CuNi","e":875.0,"v":251},{"sp":"CuNi","e":874.4,"v":262},{"sp":"CuNi","e":873.9,"v":267},{"sp":"CuNi","e":873.4,"v":263},{"sp":"CuNi","e":872.8,"v":252},{"sp":"CuNi","e":872.0,"v":238},{"sp":"CuNi","e":871.2,"v":220},{"sp":"CuNi","e":870.5,"v":208},{"sp":"CuNi","e":869.8,"v":203},{"sp":"CuNi","e":869.0,"v":204},{"sp":"CuNi","e":868.0,"v":205},{"sp":"CuNi","e":867.0,"v":207},{"sp":"CuNi","e":866.0,"v":212},{"sp":"CuNi","e":865.0,"v":225},{"sp":"CuNi","e":864.0,"v":243},{"sp":"CuNi","e":863.0,"v":258},{"sp":"CuNi","e":862.4,"v":262},{"sp":"CuNi","e":861.6,"v":256},{"sp":"CuNi","e":860.8,"v":248},{"sp":"CuNi","e":860.2,"v":247},{"sp":"CuNi","e":859.5,"v":258},{"sp":"CuNi","e":858.8,"v":280},{"sp":"CuNi","e":858.0,"v":303},{"sp":"CuNi","e":857.4,"v":318},{"sp":"CuNi","e":857.0,"v":322},{"sp":"CuNi","e":856.5,"v":318},{"sp":"CuNi","e":855.8,"v":303},{"sp":"CuNi","e":855.0,"v":288},{"sp":"CuNi","e":854.2,"v":268},{"sp":"CuNi","e":853.4,"v":250},{"sp":"CuNi","e":852.6,"v":238},{"sp":"CuNi","e":851.8,"v":225},{"sp":"CuNi","e":851.0,"v":213},{"sp":"CuNi","e":850.4,"v":209},{"sp":"CuNi","e":849.6,"v":210},{"sp":"CuNi","e":848.6,"v":218},{"sp":"CuNi","e":847.6,"v":224},{"sp":"CuNi","e":846.8,"v":224},{"sp":"CuNi","e":846.0,"v":223},
{"sp":"Ni","e":885.0,"v":47},{"sp":"Ni","e":884.0,"v":55},{"sp":"Ni","e":883.0,"v":63},{"sp":"Ni","e":882.0,"v":68},{"sp":"Ni","e":881.3,"v":70},{"sp":"Ni","e":880.5,"v":68},{"sp":"Ni","e":879.8,"v":65},{"sp":"Ni","e":879.2,"v":64},{"sp":"Ni","e":878.0,"v":62},{"sp":"Ni","e":877.0,"v":60},{"sp":"Ni","e":876.3,"v":59},{"sp":"Ni","e":875.5,"v":66},{"sp":"Ni","e":874.8,"v":80},{"sp":"Ni","e":874.3,"v":88},{"sp":"Ni","e":873.9,"v":91},{"sp":"Ni","e":873.4,"v":88},{"sp":"Ni","e":872.8,"v":80},{"sp":"Ni","e":872.2,"v":70},{"sp":"Ni","e":871.5,"v":55},{"sp":"Ni","e":870.7,"v":41},{"sp":"Ni","e":870.0,"v":40},{"sp":"Ni","e":869.2,"v":42},{"sp":"Ni","e":868.4,"v":44},{"sp":"Ni","e":867.5,"v":46},{"sp":"Ni","e":866.5,"v":49},{"sp":"Ni","e":865.5,"v":54},{"sp":"Ni","e":864.5,"v":65},{"sp":"Ni","e":863.8,"v":76},{"sp":"Ni","e":863.1,"v":84},{"sp":"Ni","e":862.4,"v":82},{"sp":"Ni","e":861.6,"v":75},{"sp":"Ni","e":860.8,"v":70},{"sp":"Ni","e":860.0,"v":76},{"sp":"Ni","e":859.2,"v":95},{"sp":"Ni","e":858.4,"v":115},{"sp":"Ni","e":857.6,"v":130},{"sp":"Ni","e":857.0,"v":137},{"sp":"Ni","e":856.4,"v":133},{"sp":"Ni","e":855.6,"v":120},{"sp":"Ni","e":854.9,"v":104},{"sp":"Ni","e":854.0,"v":86},{"sp":"Ni","e":853.2,"v":72},{"sp":"Ni","e":852.6,"v":64},{"sp":"Ni","e":851.7,"v":52},{"sp":"Ni","e":850.8,"v":45},{"sp":"Ni","e":850.0,"v":46},{"sp":"Ni","e":849.0,"v":48},{"sp":"Ni","e":847.9,"v":50},{"sp":"Ni","e":846.5,"v":50},{"sp":"Ni","e":845.3,"v":50}
],
"cpk":[
{"sp":"CuNi","c":"a","p":"Ca","e":886.2,"v":200},{"sp":"CuNi","c":"a","p":"Ca","e":885,"v":202},{"sp":"CuNi","c":"a","p":"Ca","e":884,"v":203},{"sp":"CuNi","c":"a","p":"Ca","e":883,"v":204},{"sp":"CuNi","c":"a","p":"Ca","e":882,"v":205},{"sp":"CuNi","c":"a","p":"Ca","e":881,"v":205},{"sp":"CuNi","c":"a","p":"Ca","e":880,"v":206},{"sp":"CuNi","c":"a","p":"Ca","e":879,"v":207},{"sp":"CuNi","c":"a","p":"Ca","e":878,"v":209},{"sp":"CuNi","c":"a","p":"Ca","e":877,"v":211},{"sp":"CuNi","c":"a","p":"Ca","e":876,"v":214},{"sp":"CuNi","c":"a","p":"Ca","e":875,"v":218},{"sp":"CuNi","c":"a","p":"Ca","e":874,"v":220},{"sp":"CuNi","c":"a","p":"Ca","e":873,"v":218},{"sp":"CuNi","c":"a","p":"Ca","e":872,"v":212},{"sp":"CuNi","c":"a","p":"Ca","e":871,"v":205},{"sp":"CuNi","c":"a","p":"Ca","e":870,"v":202},{"sp":"CuNi","c":"a","p":"Ca","e":869,"v":201},{"sp":"CuNi","c":"a","p":"Ca","e":868,"v":202},{"sp":"CuNi","c":"a","p":"Ca","e":867,"v":203},{"sp":"CuNi","c":"a","p":"Ca","e":866,"v":205},{"sp":"CuNi","c":"a","p":"Ca","e":865,"v":208},{"sp":"CuNi","c":"a","p":"Ca","e":864,"v":213},{"sp":"CuNi","c":"a","p":"Ca","e":863,"v":219},{"sp":"CuNi","c":"a","p":"Ca","e":862,"v":226},{"sp":"CuNi","c":"a","p":"Ca","e":861,"v":233},{"sp":"CuNi","c":"a","p":"Ca","e":860,"v":240},{"sp":"CuNi","c":"a","p":"Ca","e":859,"v":247},{"sp":"CuNi","c":"a","p":"Ca","e":858,"v":253},{"sp":"CuNi","c":"a","p":"Ca","e":857,"v":257},{"sp":"CuNi","c":"a","p":"Ca","e":856,"v":259},{"sp":"CuNi","c":"a","p":"Ca","e":855,"v":259},{"sp":"CuNi","c":"a","p":"Ca","e":854,"v":256},{"sp":"CuNi","c":"a","p":"Ca","e":853,"v":250},{"sp":"CuNi","c":"a","p":"Ca","e":852,"v":240},{"sp":"CuNi","c":"a","p":"Ca","e":851,"v":226},{"sp":"CuNi","c":"a","p":"Ca","e":850,"v":214},{"sp":"CuNi","c":"a","p":"Ca","e":849,"v":210},{"sp":"CuNi","c":"a","p":"Ca","e":848,"v":209},{"sp":"CuNi","c":"a","p":"Ca","e":847,"v":209},{"sp":"CuNi","c":"a","p":"Ca","e":846.4,"v":208},
{"sp":"CuNi","c":"s","p":"Cs1","e":886.2,"v":179},{"sp":"CuNi","c":"s","p":"Cs1","e":883.3,"v":179.6},{"sp":"CuNi","c":"s","p":"Cs1","e":882.8,"v":180.6},{"sp":"CuNi","c":"s","p":"Cs1","e":882.3,"v":182.6},{"sp":"CuNi","c":"s","p":"Cs1","e":881.8,"v":186},{"sp":"CuNi","c":"s","p":"Cs1","e":881.3,"v":190.8},{"sp":"CuNi","c":"s","p":"Cs1","e":880.8,"v":196.1},{"sp":"CuNi","c":"s","p":"Cs1","e":880.3,"v":200.4},{"sp":"CuNi","c":"s","p":"Cs1","e":879.8,"v":202},{"sp":"CuNi","c":"s","p":"Cs1","e":879.3,"v":200.4},{"sp":"CuNi","c":"s","p":"Cs1","e":878.8,"v":196.1},{"sp":"CuNi","c":"s","p":"Cs1","e":878.3,"v":190.8},{"sp":"CuNi","c":"s","p":"Cs1","e":877.8,"v":186},{"sp":"CuNi","c":"s","p":"Cs1","e":877.3,"v":182.6},{"sp":"CuNi","c":"s","p":"Cs1","e":876.8,"v":180.6},{"sp":"CuNi","c":"s","p":"Cs1","e":876.3,"v":179.6},{"sp":"CuNi","c":"s","p":"Cs1","e":846.4,"v":179},
{"sp":"CuNi","c":"s","p":"Cs2","e":866.6,"v":180.2},{"sp":"CuNi","c":"s","p":"Cs2","e":866.1,"v":182.2},{"sp":"CuNi","c":"s","p":"Cs2","e":865.6,"v":186.1},{"sp":"CuNi","c":"s","p":"Cs2","e":865.1,"v":192.8},{"sp":"CuNi","c":"s","p":"Cs2","e":864.6,"v":202.1},{"sp":"CuNi","c":"s","p":"Cs2","e":864.1,"v":212.5},{"sp":"CuNi","c":"s","p":"Cs2","e":863.6,"v":220.8},{"sp":"CuNi","c":"s","p":"Cs2","e":863.1,"v":224},{"sp":"CuNi","c":"s","p":"Cs2","e":862.6,"v":220.8},{"sp":"CuNi","c":"s","p":"Cs2","e":862.1,"v":212.5},{"sp":"CuNi","c":"s","p":"Cs2","e":861.6,"v":202.1},{"sp":"CuNi","c":"s","p":"Cs2","e":861.1,"v":192.8},{"sp":"CuNi","c":"s","p":"Cs2","e":860.6,"v":186.1},{"sp":"CuNi","c":"s","p":"Cs2","e":860.1,"v":182.2},{"sp":"CuNi","c":"s","p":"Cs2","e":859.6,"v":180.2},
{"sp":"CuNi","c":"m","p":"Cm1","e":886.2,"v":179},{"sp":"CuNi","c":"m","p":"Cm1","e":877.4,"v":179.5},{"sp":"CuNi","c":"m","p":"Cm1","e":876.9,"v":180.5},{"sp":"CuNi","c":"m","p":"Cm1","e":876.4,"v":183},{"sp":"CuNi","c":"m","p":"Cm1","e":875.9,"v":187.7},{"sp":"CuNi","c":"m","p":"Cm1","e":875.4,"v":195},{"sp":"CuNi","c":"m","p":"Cm1","e":874.9,"v":203.7},{"sp":"CuNi","c":"m","p":"Cm1","e":874.4,"v":211.1},{"sp":"CuNi","c":"m","p":"Cm1","e":873.9,"v":214},{"sp":"CuNi","c":"m","p":"Cm1","e":873.4,"v":211.1},{"sp":"CuNi","c":"m","p":"Cm1","e":872.9,"v":203.7},{"sp":"CuNi","c":"m","p":"Cm1","e":872.4,"v":195},{"sp":"CuNi","c":"m","p":"Cm1","e":871.9,"v":187.7},{"sp":"CuNi","c":"m","p":"Cm1","e":871.4,"v":183},{"sp":"CuNi","c":"m","p":"Cm1","e":870.9,"v":180.5},{"sp":"CuNi","c":"m","p":"Cm1","e":870.4,"v":179.5},{"sp":"CuNi","c":"m","p":"Cm1","e":846.4,"v":179},
{"sp":"CuNi","c":"m","p":"Cm2","e":860.2,"v":180},{"sp":"CuNi","c":"m","p":"Cm2","e":859.7,"v":182.1},{"sp":"CuNi","c":"m","p":"Cm2","e":859.2,"v":187.1},{"sp":"CuNi","c":"m","p":"Cm2","e":858.7,"v":196.7},{"sp":"CuNi","c":"m","p":"Cm2","e":858.2,"v":211.5},{"sp":"CuNi","c":"m","p":"Cm2","e":857.7,"v":229.2},{"sp":"CuNi","c":"m","p":"Cm2","e":857.2,"v":244.1},{"sp":"CuNi","c":"m","p":"Cm2","e":856.7,"v":250},{"sp":"CuNi","c":"m","p":"Cm2","e":856.2,"v":244.1},{"sp":"CuNi","c":"m","p":"Cm2","e":855.7,"v":229.2},{"sp":"CuNi","c":"m","p":"Cm2","e":855.2,"v":211.5},{"sp":"CuNi","c":"m","p":"Cm2","e":854.7,"v":196.7},{"sp":"CuNi","c":"m","p":"Cm2","e":854.2,"v":187.1},{"sp":"CuNi","c":"m","p":"Cm2","e":853.7,"v":182.1},{"sp":"CuNi","c":"m","p":"Cm2","e":853.2,"v":180},
{"sp":"Ni","c":"a","p":"Na","e":885,"v":29},{"sp":"Ni","c":"a","p":"Na","e":884,"v":32},{"sp":"Ni","c":"a","p":"Na","e":883,"v":35},{"sp":"Ni","c":"a","p":"Na","e":882,"v":36},{"sp":"Ni","c":"a","p":"Na","e":881,"v":36},{"sp":"Ni","c":"a","p":"Na","e":880,"v":35},{"sp":"Ni","c":"a","p":"Na","e":879,"v":35},{"sp":"Ni","c":"a","p":"Na","e":878,"v":36},{"sp":"Ni","c":"a","p":"Na","e":877,"v":37},{"sp":"Ni","c":"a","p":"Na","e":876,"v":36},{"sp":"Ni","c":"a","p":"Na","e":875,"v":33},{"sp":"Ni","c":"a","p":"Na","e":874,"v":30},{"sp":"Ni","c":"a","p":"Na","e":873,"v":27},{"sp":"Ni","c":"a","p":"Na","e":872,"v":25},{"sp":"Ni","c":"a","p":"Na","e":871,"v":25},{"sp":"Ni","c":"a","p":"Na","e":870,"v":27},{"sp":"Ni","c":"a","p":"Na","e":869,"v":29},{"sp":"Ni","c":"a","p":"Na","e":868,"v":30},{"sp":"Ni","c":"a","p":"Na","e":867,"v":30},{"sp":"Ni","c":"a","p":"Na","e":866,"v":30},{"sp":"Ni","c":"a","p":"Na","e":865,"v":32},{"sp":"Ni","c":"a","p":"Na","e":864,"v":36},{"sp":"Ni","c":"a","p":"Na","e":863,"v":41},{"sp":"Ni","c":"a","p":"Na","e":862,"v":46},{"sp":"Ni","c":"a","p":"Na","e":861,"v":50},{"sp":"Ni","c":"a","p":"Na","e":860,"v":53},{"sp":"Ni","c":"a","p":"Na","e":859,"v":56},{"sp":"Ni","c":"a","p":"Na","e":858,"v":62},{"sp":"Ni","c":"a","p":"Na","e":857,"v":70},{"sp":"Ni","c":"a","p":"Na","e":856,"v":78},{"sp":"Ni","c":"a","p":"Na","e":855,"v":82},{"sp":"Ni","c":"a","p":"Na","e":854,"v":80},{"sp":"Ni","c":"a","p":"Na","e":853,"v":70},{"sp":"Ni","c":"a","p":"Na","e":852,"v":55},{"sp":"Ni","c":"a","p":"Na","e":851.3,"v":43},{"sp":"Ni","c":"a","p":"Na","e":850.5,"v":44},{"sp":"Ni","c":"a","p":"Na","e":849,"v":46},{"sp":"Ni","c":"a","p":"Na","e":847,"v":47},{"sp":"Ni","c":"a","p":"Na","e":845.3,"v":47},
{"sp":"Ni","c":"s","p":"Ns1","e":885,"v":16},{"sp":"Ni","c":"s","p":"Ns1","e":884.2,"v":16.5},{"sp":"Ni","c":"s","p":"Ns1","e":883.7,"v":17.3},{"sp":"Ni","c":"s","p":"Ns1","e":883.2,"v":19},{"sp":"Ni","c":"s","p":"Ns1","e":882.7,"v":21.8},{"sp":"Ni","c":"s","p":"Ns1","e":882.2,"v":25.8},{"sp":"Ni","c":"s","p":"Ns1","e":881.7,"v":30.1},{"sp":"Ni","c":"s","p":"Ns1","e":881.2,"v":33.7},{"sp":"Ni","c":"s","p":"Ns1","e":880.7,"v":35},{"sp":"Ni","c":"s","p":"Ns1","e":880.2,"v":33.7},{"sp":"Ni","c":"s","p":"Ns1","e":879.7,"v":30.1},{"sp":"Ni","c":"s","p":"Ns1","e":879.2,"v":25.8},{"sp":"Ni","c":"s","p":"Ns1","e":878.7,"v":21.8},{"sp":"Ni","c":"s","p":"Ns1","e":878.2,"v":19},{"sp":"Ni","c":"s","p":"Ns1","e":877.7,"v":17.3},{"sp":"Ni","c":"s","p":"Ns1","e":877.2,"v":16.5},{"sp":"Ni","c":"s","p":"Ns1","e":845.3,"v":16},
{"sp":"Ni","c":"s","p":"Ns2","e":866.9,"v":17},{"sp":"Ni","c":"s","p":"Ns2","e":866.4,"v":18.6},{"sp":"Ni","c":"s","p":"Ns2","e":865.9,"v":21.8},{"sp":"Ni","c":"s","p":"Ns2","e":865.4,"v":27.3},{"sp":"Ni","c":"s","p":"Ns2","e":864.9,"v":35},{"sp":"Ni","c":"s","p":"Ns2","e":864.4,"v":43.5},{"sp":"Ni","c":"s","p":"Ns2","e":863.9,"v":50.4},{"sp":"Ni","c":"s","p":"Ns2","e":863.4,"v":53},{"sp":"Ni","c":"s","p":"Ns2","e":862.9,"v":50.4},{"sp":"Ni","c":"s","p":"Ns2","e":862.4,"v":43.5},{"sp":"Ni","c":"s","p":"Ns2","e":861.9,"v":35},{"sp":"Ni","c":"s","p":"Ns2","e":861.4,"v":27.3},{"sp":"Ni","c":"s","p":"Ns2","e":860.9,"v":21.8},{"sp":"Ni","c":"s","p":"Ns2","e":860.4,"v":18.6},{"sp":"Ni","c":"s","p":"Ns2","e":859.9,"v":17},
{"sp":"Ni","c":"m","p":"Nm1","e":885,"v":16},{"sp":"Ni","c":"m","p":"Nm1","e":877.4,"v":16.4},{"sp":"Ni","c":"m","p":"Nm1","e":876.9,"v":17.3},{"sp":"Ni","c":"m","p":"Nm1","e":876.4,"v":19.4},{"sp":"Ni","c":"m","p":"Nm1","e":875.9,"v":23.5},{"sp":"Ni","c":"m","p":"Nm1","e":875.4,"v":29.7},{"sp":"Ni","c":"m","p":"Nm1","e":874.9,"v":37.2},{"sp":"Ni","c":"m","p":"Nm1","e":874.4,"v":43.5},{"sp":"Ni","c":"m","p":"Nm1","e":873.9,"v":46},{"sp":"Ni","c":"m","p":"Nm1","e":873.4,"v":43.5},{"sp":"Ni","c":"m","p":"Nm1","e":872.9,"v":37.2},{"sp":"Ni","c":"m","p":"Nm1","e":872.4,"v":29.7},{"sp":"Ni","c":"m","p":"Nm1","e":871.9,"v":23.5},{"sp":"Ni","c":"m","p":"Nm1","e":871.4,"v":19.4},{"sp":"Ni","c":"m","p":"Nm1","e":870.9,"v":17.3},{"sp":"Ni","c":"m","p":"Nm1","e":870.4,"v":16.4},{"sp":"Ni","c":"m","p":"Nm1","e":845.3,"v":16},
{"sp":"Ni","c":"m","p":"Nm2","e":860.5,"v":16.9},{"sp":"Ni","c":"m","p":"Nm2","e":860.0,"v":18.7},{"sp":"Ni","c":"m","p":"Nm2","e":859.5,"v":23},{"sp":"Ni","c":"m","p":"Nm2","e":859.0,"v":31.2},{"sp":"Ni","c":"m","p":"Nm2","e":858.5,"v":43.9},{"sp":"Ni","c":"m","p":"Nm2","e":858.0,"v":59.1},{"sp":"Ni","c":"m","p":"Nm2","e":857.5,"v":71.9},{"sp":"Ni","c":"m","p":"Nm2","e":857.0,"v":77},{"sp":"Ni","c":"m","p":"Nm2","e":856.5,"v":71.9},{"sp":"Ni","c":"m","p":"Nm2","e":856.0,"v":59.1},{"sp":"Ni","c":"m","p":"Nm2","e":855.5,"v":43.9},{"sp":"Ni","c":"m","p":"Nm2","e":855.0,"v":31.2},{"sp":"Ni","c":"m","p":"Nm2","e":854.5,"v":23},{"sp":"Ni","c":"m","p":"Nm2","e":854.0,"v":18.7},{"sp":"Ni","c":"m","p":"Nm2","e":853.5,"v":16.9}
]
},
"spacing":53,
"resolve":{"scale":{"x":"independent","y":"independent","color":"independent","fill":"independent","stroke":"independent"}},
"hconcat":[
{
 "width":512,"height":417,
 "view":{"stroke":null},
 "resolve":{"axis":{"x":"independent","y":"independent"}},
 "layer":[
  {"data":{"name":"xrd"},"mark":{"type":"line","strokeWidth":2},
   "encoding":{
    "x":{"field":"t","type":"quantitative","scale":{"domain":[3.95,85.1],"nice":false,"zero":false},
     "axis":{"values":[5,10,15,20,25,30,35,40,45,50,55,60,65,70,75,80,85],"tickSize":-8,"tickWidth":1.2,"domain":false,"labelFontSize":14,"labelPadding":17,"title":"2θ (deg)","titleFontSize":19,"titlePadding":14}},
    "y":{"field":"i","type":"quantitative","scale":{"domain":[0,410],"range":[417,7],"nice":false,"zero":false},
     "axis":{"title":"Intensity (a.u.)","labels":false,"ticks":false,"domain":false,"titleFontSize":19,"titlePadding":18}},
    "color":{"field":"s","type":"nominal","scale":{"domain":["Cu","CuNi","Ni","MX","MAX"],"range":["#ff8a00","#0808ff","#ff0a0a","#8410ff","#ff1493"]},"legend":null}
   }},
  {"data":{"name":"xframe"},"mark":{"type":"rule","color":"#111","strokeWidth":1.5},
   "encoding":{
    "x":{"field":"t","type":"quantitative","axis":null},"x2":{"field":"t2"},
    "y":{"field":"a","type":"quantitative","axis":null},"y2":{"field":"b"}}},
  {"data":{"name":"xtk"},"mark":{"type":"rule","color":"#444","strokeWidth":1},
   "encoding":{
    "x":{"field":"t","type":"quantitative","axis":{"orient":"bottom","values":[7.5,12.5,17.5,22.5,27.5,32.5,37.5,42.5,47.5,52.5,57.5,62.5,67.5,72.5,77.5,82.5],"tickSize":-4,"tickWidth":1.2,"labels":false,"domain":false,"title":null}},
    "y":{"field":"a","type":"quantitative","axis":null},"y2":{"field":"b"}}},
  {"data":{"name":"xdot"},"mark":{"type":"rule","color":"#777","strokeWidth":0.8,"strokeDash":[2,2]},
   "encoding":{
    "x":{"field":"t","type":"quantitative","axis":null},
    "x2":{"field":"t2"},
    "y":{"field":"a","type":"quantitative","axis":null},"y2":{"field":"b"}}},
  {"data":{"name":"xlab"},"transform":[{"filter":"datum.k=='h'"}],"mark":{"type":"text","fontSize":13.5,"color":"#222","align":"center","baseline":"middle"},
   "encoding":{"x":{"field":"t","type":"quantitative","axis":null},"y":{"field":"i","type":"quantitative","axis":null},"text":{"field":"txt"}}},
  {"data":{"name":"xlab"},"transform":[{"filter":"datum.k=='v'"}],"mark":{"type":"text","fontSize":11,"color":"black","align":"center","baseline":"middle","font":"DejaVu Sans"},
   "encoding":{"x":{"field":"t","type":"quantitative","axis":null},"y":{"field":"i","type":"quantitative","axis":null},"text":{"field":"txt"}}},
  {"data":{"name":"xlab"},"transform":[{"filter":"datum.k=='n'"}],"mark":{"type":"text","fontSize":18.5,"color":"#222","align":"right","baseline":"middle"},
   "encoding":{"x":{"field":"t","type":"quantitative","axis":null},"y":{"field":"i","type":"quantitative","axis":null},"text":{"field":"txt"}}},
  {"data":{"name":"xlab"},"transform":[{"filter":"datum.k=='T'"}],"mark":{"type":"text","fontSize":19.5,"color":"#222","align":"right","baseline":"alphabetic"},
   "encoding":{"x":{"field":"t","type":"quantitative","axis":null},"y":{"field":"i","type":"quantitative","axis":null},"text":{"field":"txt"}}},
  {"data":{"name":"xlab"},"transform":[{"filter":"datum.k=='A'"}],"mark":{"type":"text","fontSize":24,"color":"#222","align":"right","baseline":"alphabetic"},
   "encoding":{"x":{"field":"t","type":"quantitative","axis":null},"y":{"field":"i","type":"quantitative","axis":null},"text":{"field":"txt"}}}
 ]
},
{
 "spacing":0,"bounds":"flush",
 "resolve":{"scale":{"x":"independent","y":"independent","fill":"independent","color":"independent","stroke":"independent"},"legend":{"fill":"independent","color":"independent"}},
 "hconcat":[
 {
  "width":252,"height":449,
  "resolve":{"axis":{"x":"independent","y":"independent"}},
  "layer":[
   {"data":{"name":"bpts"},"mark":{"type":"line","color":"#333","strokeWidth":0.8},
    "encoding":{
     "x":{"field":"e","type":"quantitative","scale":{"domain":[928.13,964.3],"reverse":true,"nice":false,"zero":false},
      "axis":{"values":[960,955,950,945,940,935,930],"tickSize":-7,"tickWidth":1.2,"domain":false,"labelFontSize":13.5,"labelPadding":14,"title":"Binding Energy (eV)","titleFontSize":17.5,"titleX":253,"titleY":40,"titleBaseline":"middle","titleAlign":"center"}},
     "y":{"field":"v","type":"quantitative","scale":{"domain":[0,449],"nice":false,"zero":false},
      "axis":{"title":"Intensity (arbitrary units)","labels":false,"ticks":false,"domain":false,"titleFontSize":15.5,"titlePadding":11}},
     "detail":{"field":"sp"}}},
   {"data":{"name":"bpts"},"mark":{"type":"point","shape":"circle","size":24,"filled":true,"fill":"white","stroke":"#333","strokeWidth":0.8,"opacity":1},
    "encoding":{"x":{"field":"e","type":"quantitative","axis":null},"y":{"field":"v","type":"quantitative","axis":null}}},
   {"data":{"name":"bfit"},"transform":[{"filter":"datum.sp=='CuNi'"}],"mark":{"type":"area","fillOpacity":0.6},
    "encoding":{"x":{"field":"e","type":"quantitative","axis":null},"y":{"field":"v","type":"quantitative","axis":null},"y2":{"datum":242},
     "fill":{"datum":"Cu⁰/⁺¹","scale":{"range":["#a83030"]},
      "legend":{"orient":"none","legendX":179.75,"legendY":5.5,"title":null,"padding":0,"symbolType":"M-2,-0.97H2V0.97H-2Z","symbolSize":306,"symbolOpacity":0.6,"symbolStrokeWidth":0,"labelFontSize":16,"labelOffset":14.5,"labelLimit":200}}}},
   {"data":{"name":"bfit"},"transform":[{"filter":"datum.sp=='Cu'"}],"mark":{"type":"area","fillOpacity":0.6},
    "encoding":{"x":{"field":"e","type":"quantitative","axis":null},"y":{"field":"v","type":"quantitative","axis":null},"y2":{"datum":45},
     "fill":{"datum":"Cu⁰/⁺¹"}}},
   {"data":{"name":"bfit"},"mark":{"type":"line","color":"#e3211c","strokeWidth":1.3},
    "encoding":{
     "x":{"field":"e","type":"quantitative","axis":{"orient":"bottom","values":[962.5,957.5,952.5,947.5,942.5,937.5,932.5],"tickSize":-3.5,"tickWidth":1.2,"labels":false,"domain":false,"title":null}},
     "y":{"field":"v","type":"quantitative","axis":null},"detail":{"field":"sp"}}},
   {"data":{"name":"blab"},"transform":[{"filter":"datum.k=='t'"}],"mark":{"type":"text","align":"left","baseline":"middle","fontSize":15,"color":"black"},
    "encoding":{"x":{"field":"e","type":"quantitative","axis":null},"y":{"field":"v","type":"quantitative","axis":null},"text":{"field":"txt"}}},
   {"data":{"name":"blab"},"transform":[{"filter":"datum.k=='s'"}],"mark":{"type":"text","align":"left","baseline":"middle","fontSize":12.5,"fontWeight":"bold","color":"black"},
    "encoding":{"x":{"field":"e","type":"quantitative","axis":null},"y":{"field":"v","type":"quantitative","axis":null},"text":{"field":"txt"}}}
  ]
 },
 {
  "width":244,"height":449,
  "view":{"stroke":null},
  "resolve":{"axis":{"x":"independent","y":"independent"}},
  "layer":[
   {"data":{"name":"cpts"},"mark":{"type":"line","color":"#333","strokeWidth":0.8},
    "encoding":{
     "x":{"field":"e","type":"quantitative","scale":{"domain":[844.95,887.8],"reverse":true,"nice":false,"zero":false},
      "axis":{"values":[882,876,870,864,858,852,846],"tickSize":-7,"tickWidth":1.2,"domain":true,"domainWidth":1.2,"labelFontSize":13.5,"labelPadding":14,"title":null}},
     "y":{"field":"v","type":"quantitative","scale":{"domain":[0,449],"nice":false,"zero":false},"axis":null},
     "detail":{"field":"sp"}}},
   {"data":{"name":"cpts"},"mark":{"type":"point","shape":"circle","size":24,"filled":true,"fill":"white","stroke":"#333","strokeWidth":0.8,"opacity":1},
    "encoding":{"x":{"field":"e","type":"quantitative","axis":null},"y":{"field":"v","type":"quantitative","axis":null}}},
   {"data":{"name":"cpk"},"transform":[{"filter":"datum.sp=='CuNi' && datum.c=='a'"}],"mark":{"type":"area","fillOpacity":0.6,"strokeWidth":1},
    "encoding":{"x":{"field":"e","type":"quantitative","axis":null},"y":{"field":"v","type":"quantitative","axis":null},"y2":{"datum":179},
     "fill":{"field":"c","type":"nominal","scale":{"domain":["m","s","a"],"range":["#b03a3a","#4a2d80","#8cc0bb"]},
      "legend":{"orient":"none","legendX":104.75,"legendY":3.2,"title":null,"padding":0,"symbolType":"M-2,-0.92H2V0.92H-2Z","symbolSize":240,"symbolOpacity":0.6,"symbolStrokeWidth":0,"labelFontSize":15.5,"labelOffset":11.5,"rowPadding":2.2,"labelLimit":300,
       "labelExpr":"datum.value=='m' ? 'Ni²⁺ (main)' : datum.value=='s' ? 'Ni²⁺ (6 eV satellite)' : 'F KLL Auger'"}},
     "stroke":{"field":"c","type":"nominal","scale":{"domain":["m","s","a"],"range":["#e02020","#3a1d7a","#22a09c"]},"legend":null},
     "detail":{"field":"p"}}},
   {"data":{"name":"cpk"},"transform":[{"filter":"datum.sp=='CuNi' && datum.c!='a'"}],"mark":{"type":"area","fillOpacity":0.6,"strokeWidth":1},
    "encoding":{"x":{"field":"e","type":"quantitative","axis":null},"y":{"field":"v","type":"quantitative","axis":null},"y2":{"datum":179},
     "fill":{"field":"c","type":"nominal"},"stroke":{"field":"c","type":"nominal","legend":null},"detail":{"field":"p"}}},
   {"data":{"name":"cpk"},"transform":[{"filter":"datum.sp=='Ni' && datum.c=='a'"}],"mark":{"type":"area","fillOpacity":0.6,"strokeWidth":1},
    "encoding":{"x":{"field":"e","type":"quantitative","axis":null},"y":{"field":"v","type":"quantitative","axis":null},"y2":{"datum":16},
     "fill":{"field":"c","type":"nominal"},"stroke":{"field":"c","type":"nominal","legend":null},"detail":{"field":"p"}}},
   {"data":{"name":"cpk"},"transform":[{"filter":"datum.sp=='Ni' && datum.c!='a'"}],"mark":{"type":"area","fillOpacity":0.6,"strokeWidth":1},
    "encoding":{"x":{"field":"e","type":"quantitative","axis":null},"y":{"field":"v","type":"quantitative","axis":null},"y2":{"datum":16},
     "fill":{"field":"c","type":"nominal"},"stroke":{"field":"c","type":"nominal","legend":null},"detail":{"field":"p"}}},
   {"data":{"name":"ctot"},"mark":{"type":"line","strokeWidth":4.5,"opacity":0.75},
    "encoding":{
     "x":{"field":"e","type":"quantitative","axis":{"orient":"top","labels":false,"ticks":false,"domain":true,"domainWidth":1.2,"title":null}},
     "y":{"field":"v","type":"quantitative","axis":null},
     "detail":{"field":"sp"},
     "color":{"datum":"Total","scale":{"range":["#4646e6"]},
      "legend":{"orient":"none","legendX":103.7,"legendY":57.8,"title":null,"padding":0,"symbolType":"M-2,0H2","symbolSize":324,"symbolStrokeWidth":4,"symbolOpacity":0.75,"labelFontSize":15.5,"labelOffset":10,"labelLimit":200}}}},
   {"data":{"name":"clab"},"transform":[{"filter":"datum.k=='t'"}],"mark":{"type":"text","align":"left","baseline":"middle","fontSize":15,"color":"black"},
    "encoding":{
     "x":{"field":"e","type":"quantitative","axis":{"orient":"bottom","values":[885,879,873,867,861,855,849],"tickSize":-3.5,"tickWidth":1.2,"labels":false,"domain":false,"title":null}},
     "y":{"field":"v","type":"quantitative","axis":null},"text":{"field":"txt"}}},
   {"data":{"name":"clab"},"transform":[{"filter":"datum.k=='s'"}],"mark":{"type":"text","align":"left","baseline":"middle","fontSize":12.5,"fontWeight":"bold","color":"black"},
    "encoding":{"x":{"field":"e","type":"quantitative","axis":null},"y":{"field":"v","type":"quantitative","axis":null},"text":{"field":"txt"}}}
  ]
 }
 ]
}
]
}
